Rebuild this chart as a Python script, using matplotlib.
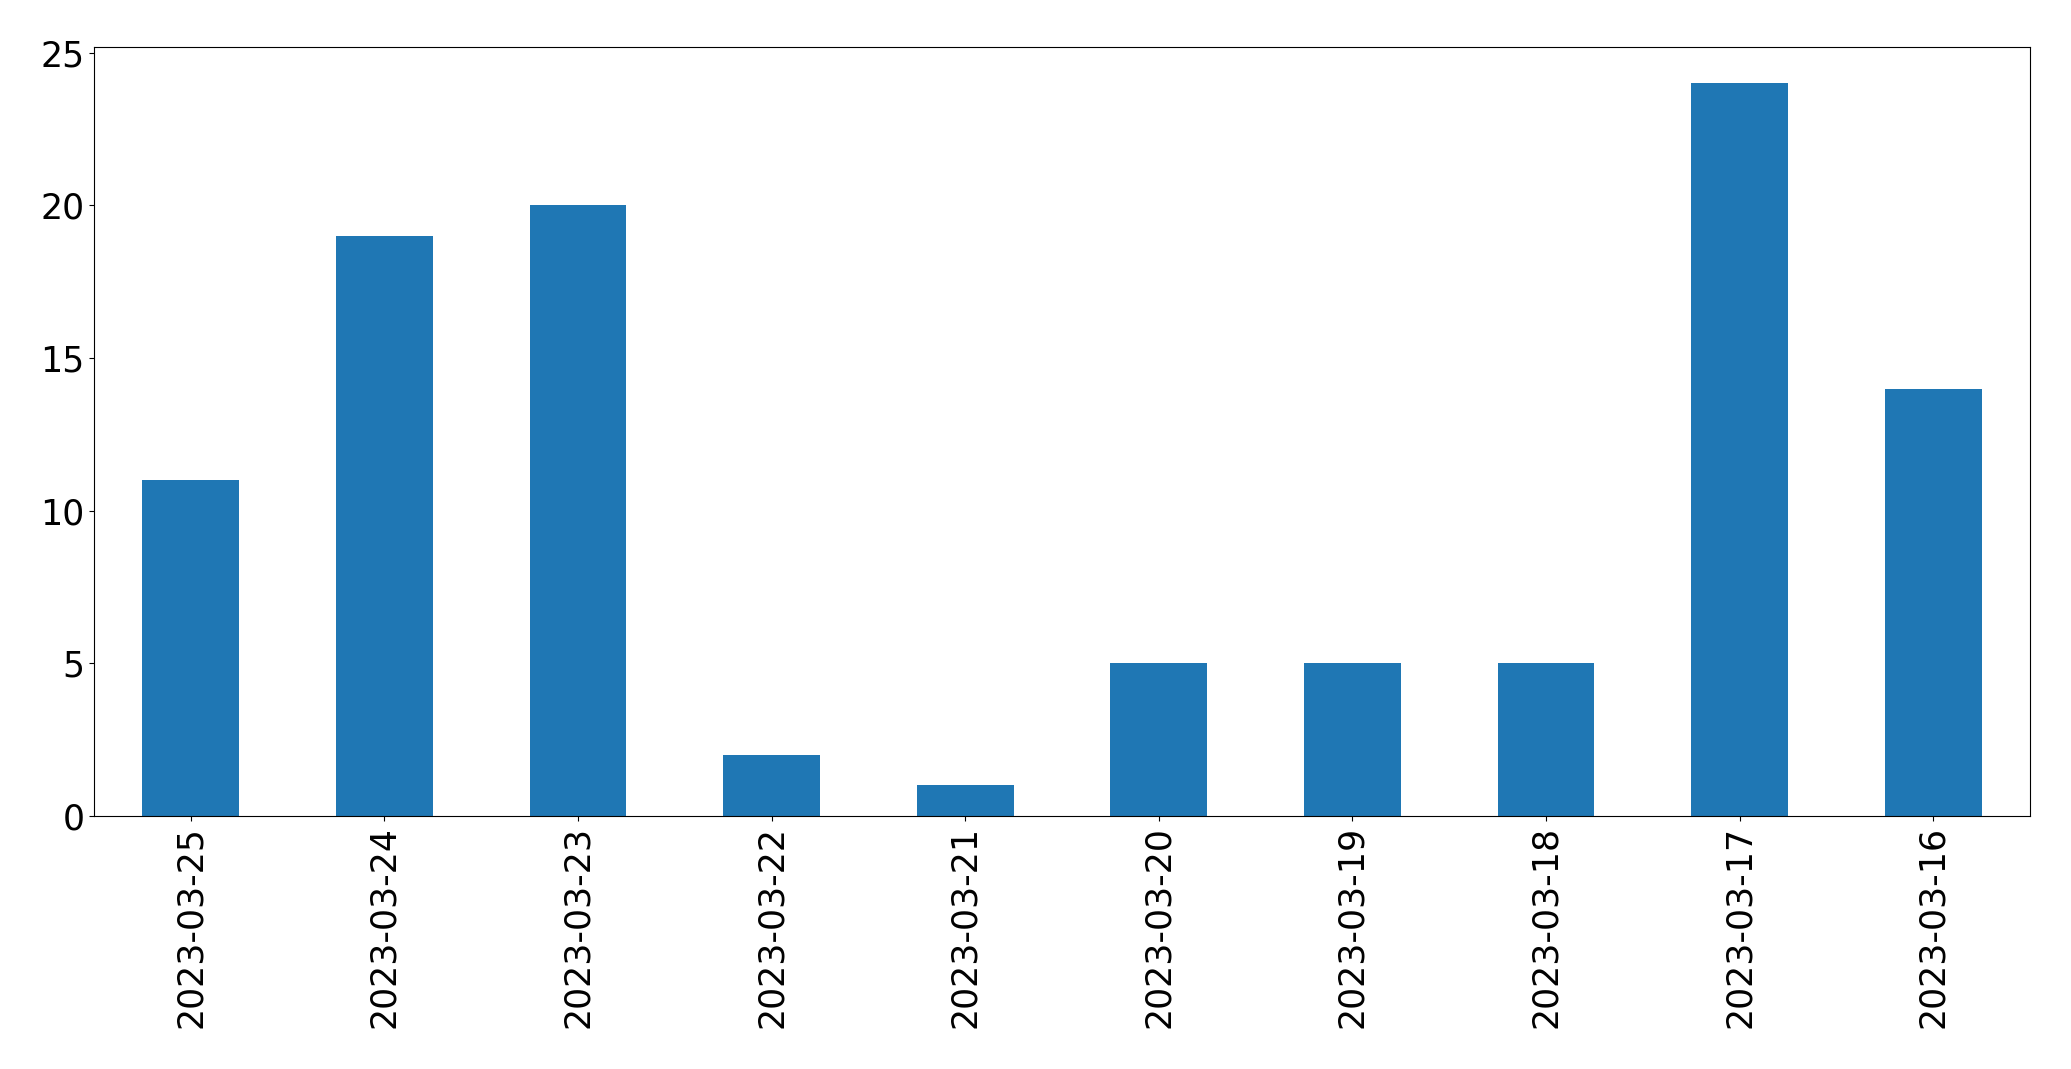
import matplotlib
matplotlib.use("Agg")
import matplotlib.pyplot as plt

dates = ["2023-03-25", "2023-03-24", "2023-03-23", "2023-03-22", "2023-03-21",
         "2023-03-20", "2023-03-19", "2023-03-18", "2023-03-17", "2023-03-16"]
counts = [11, 19, 20, 2, 1, 5, 5, 5, 24, 14]

fig = plt.figure(figsize=(20.71, 10.69), dpi=100)
ax = fig.add_axes([94/2071, 1 - 816/1069, (2030-94)/2071, (816-46.5)/1069])
x = range(len(dates))
ax.bar(x, counts, width=0.5, color="#1f77b4")
ax.set_xlim(-0.5, len(dates) - 0.5)
ax.set_ylim(0, 25.2)
ax.set_xticks(list(x))
ax.set_xticklabels(dates, rotation=90, fontsize=25)
ax.tick_params(axis="y", labelsize=25)
fig.savefig("out.png", dpi=100)
